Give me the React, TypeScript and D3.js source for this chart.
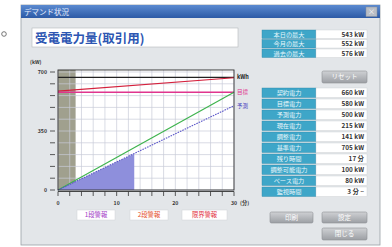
import React from "react";
import * as d3 from "d3";

// ---- data ----
const xTickValues = d3.range(0, 31, 2);
const xLabelValues = [0, 10, 20, 30];
const yTickValues = d3.range(0, 701, 70);
const yLabelValues = [0, 350, 700];
const monitorMinutes = 3;
const topLineValue = 668;
const targetValue = 580;
const limitTimes = [0, 30];
const limitValues = [586, 666];
const targetTimes = [0, 30];
const targetValues = [0, 580];
const forecastTimes = [0, 30];
const forecastValues = [0, 500];
const actualTimes = [0, 13];
const actualValues = [0, 215];
const seriesLabels = ["kWh", "目標", "予測"];

const topLabels = ["本日の最大", "今月の最大", "過去の最大"];
const topValues = ["543 kW", "552 kW", "576 kW"];
const tableLabels = ["契約電力", "目標電力", "予測電力", "現在電力", "調整電力", "基準電力", "残り時間", "調整可能電力", "ベース電力", "監視時間"];
const tableValues = ["660 kW", "580 kW", "500 kW", "215 kW", "141 kW", "705 kW", "17 分", "100 kW", "80 kW", "3 分 ~"];
const alarmLabels = ["1段警報", "2段警報", "限界警報"];
const alarmColors = ["#a23cc6", "#e4502c", "#e2303e"];

const FONT = "'Noto Sans CJK JP', 'Noto Sans', sans-serif";

export default function App() {
  const x = d3.scaleLinear().domain([0, 30]).range([58, 234]);
  const y = d3.scaleLinear().domain([0, 700]).range([190, 72]);
  const yTop = y(712);
  const line = d3.line<[number, number]>().x((d) => x(d[0])).y((d) => y(d[1]));
  const zip = (a: number[], b: number[]) => a.map((t, i) => [t, b[i]] as [number, number]);
  const area = d3
    .area<[number, number]>()
    .x((d) => x(d[0]))
    .y0(y(0))
    .y1((d) => y(d[1]));

  const btn = (bx: number, by: number, bw: number, bh: number, label: string, key: string) => (
    <g key={key}>
      <rect x={bx} y={by} width={bw} height={bh} rx={1.5} fill="url(#btnGrad)" stroke="#8d9096" strokeWidth={0.6} />
      <text x={bx + bw / 2} y={by + bh / 2 + 2.3} textAnchor="middle" fontSize={6.5} fill="#fff" fontFamily={FONT}>
        {label}
      </text>
    </g>
  );

  const cellRow = (ry: number, rh: number, label: string, value: string, key: string) => (
    <g key={key}>
      <rect x={262} y={ry} width={54} height={rh} fill="#3ea6c8" stroke="#2f88a8" strokeWidth={0.4} />
      <text x={289} y={ry + rh / 2 + 2.3} textAnchor="middle" fontSize={6.2} fill="#e8f6fb" fontFamily={FONT}>
        {label}
      </text>
      <rect x={316} y={ry} width={51} height={rh} fill="#ffffff" stroke="#c8ccd0" strokeWidth={0.4} />
      <text x={364} y={ry + rh / 2 + 2.3} textAnchor="end" fontSize={6.4} fontWeight="bold" fill="#333" fontFamily={FONT}>
        {value}
      </text>
    </g>
  );

  return (
    <svg width={392} height={247} style={{ position: "absolute", left: 0, top: 0, background: "#fff" }}>
      <defs>
        <linearGradient id="titleGrad" x1="0" y1="0" x2="0" y2="1">
          <stop offset="0" stopColor="#5b8ad0" />
          <stop offset="1" stopColor="#2c5aa6" />
        </linearGradient>
        <linearGradient id="btnGrad" x1="0" y1="0" x2="0" y2="1">
          <stop offset="0" stopColor="#cfd1d4" />
          <stop offset="1" stopColor="#9c9fa4" />
        </linearGradient>
      </defs>
      {/* stray circle */}
      <circle cx={4} cy={34} r={2.3} fill="none" stroke="#555" strokeWidth={0.8} />

      {/* dialog */}
      <rect x={21} y={5} width={359} height={240} fill="#e3e6e9" stroke="#9aa0a6" strokeWidth={0.8} />
      <rect x={21} y={5} width={359} height={13} fill="url(#titleGrad)" />
      <text x={24} y={14.5} fontSize={7.5} fill="#e8efff" fontFamily={FONT}>
        デマンド状況
      </text>
      <rect x={366} y={7} width={11} height={9.5} fill="#b9bec6" stroke="#8a9099" strokeWidth={0.5} />
      <text x={371.5} y={14} textAnchor="middle" fontSize={7} fill="#fff" fontFamily={FONT}>
        ×
      </text>

      {/* chart title */}
      <rect x={32} y={28} width={206} height={19} fill="#fff" stroke="#b4b8bd" strokeWidth={0.6} />
      <text x={35} y={42.5} fontSize={12.5} fontWeight="bold" fill="#2d56b2" fontFamily={FONT}>
        受電電力量(取引用)
      </text>

      {/* top table */}
      {topLabels.map((l, i) => cellRow(30 + i * 9.5, 8.5, l, topValues[i], "t" + i))}
      {btn(322, 71, 45, 12, "リセット", "reset")}

      {/* bottom table */}
      {tableLabels.map((l, i) => cellRow(88 + i * 11, 9.5, l, tableValues[i], "b" + i))}
      {btn(270, 212, 43, 11, "印刷", "print")}
      {btn(322, 212, 45, 11, "設定", "setting")}
      {btn(322, 228, 45, 12, "閉じる", "close")}

      {/* plot */}
      <rect x={x(0)} y={yTop} width={x(30) - x(0)} height={y(0) - yTop} fill="#fff" />
      <rect x={x(0)} y={yTop} width={x(monitorMinutes) - x(0)} height={y(0) - yTop} fill="#a0a08e" />
      {xTickValues.map((t) => (
        <line key={"gx" + t} x1={x(t)} x2={x(t)} y1={yTop} y2={y(0)} stroke="#c9ccd8" strokeWidth={0.7} />
      ))}
      {yTickValues.map((v) => (
        <line key={"gy" + v} x1={x(0)} x2={x(30)} y1={y(v)} y2={y(v)} stroke="#c9ccd8" strokeWidth={0.7} />
      ))}
      <path d={area(zip(actualTimes, actualValues)) || ""} fill="#8e8fdc" />
      <line x1={x(0)} x2={x(30)} y1={y(topLineValue)} y2={y(topLineValue)} stroke="#222" strokeWidth={1.4} />
      <path d={line(zip(limitTimes, limitValues)) || ""} fill="none" stroke="#d4203c" strokeWidth={1.2} />
      <line x1={x(0)} x2={x(30)} y1={y(targetValue)} y2={y(targetValue)} stroke="#e0358e" strokeWidth={1.3} />
      <path d={line(zip(targetTimes, targetValues)) || ""} fill="none" stroke="#3fb44e" strokeWidth={1.2} />
      <path d={line(zip(forecastTimes, forecastValues)) || ""} fill="none" stroke="#5a55c8" strokeWidth={1.1} strokeDasharray="1.6,1" />
      <rect x={x(0)} y={yTop} width={x(30) - x(0)} height={y(0) - yTop} fill="none" stroke="#333" strokeWidth={0.9} />

      {/* series labels */}
      <text x={237} y={y(topLineValue) + 2} fontSize={5.5} fontWeight="bold" fill="#222" fontFamily={FONT}>
        {seriesLabels[0]}
      </text>
      <text x={237} y={y(targetValue) + 2} fontSize={5.5} fill="#e0358e" fontFamily={FONT}>
        {seriesLabels[1]}
      </text>
      <text x={237} y={y(forecastValues[1]) + 2} fontSize={5.5} fill="#4a48c0" fontFamily={FONT}>
        {seriesLabels[2]}
      </text>

      {/* y axis */}
      <text x={30} y={64} fontSize={5} fontWeight="bold" fill="#333" fontFamily={FONT}>
        (kW)
      </text>
      {yTickValues.map((v) => (
        <line key={"yt" + v} x1={50} x2={55} y1={y(v)} y2={y(v)} stroke="#333" strokeWidth={0.8} />
      ))}
      {yLabelValues.map((v) => (
        <text key={"yl" + v} x={47} y={y(v) + 1.8} textAnchor="end" fontSize={5.2} fontWeight="bold" fill="#333" fontFamily={FONT}>
          {v}
        </text>
      ))}

      {/* x axis */}
      <line x1={x(0)} x2={x(30)} y1={191.5} y2={191.5} stroke="#333" strokeWidth={0.9} />
      {xTickValues.map((t) => (
        <line key={"xt" + t} x1={x(t)} x2={x(t)} y1={191.5} y2={196} stroke="#333" strokeWidth={0.8} />
      ))}
      {xLabelValues.map((t) => (
        <text key={"xl" + t} x={x(t)} y={205} textAnchor="middle" fontSize={5.2} fontWeight="bold" fill="#333" fontFamily={FONT}>
          {t}
        </text>
      ))}
      <text x={240} y={205} fontSize={5.2} fontWeight="bold" fill="#333" fontFamily={FONT}>
        (分)
      </text>

      {/* alarm boxes */}
      {alarmLabels.map((l, i) => {
        const bx = [77, 130, 182][i];
        const bw = [38, 38, 45][i];
        return (
          <g key={"al" + i}>
            <rect x={bx} y={210} width={bw} height={10} fill="#fff" stroke="#d0d3d8" strokeWidth={0.5} />
            <text x={bx + bw / 2} y={217.3} textAnchor="middle" fontSize={6.3} fill={alarmColors[i]} fontFamily={FONT}>
              {l}
            </text>
          </g>
        );
      })}
    </svg>
  );
}
